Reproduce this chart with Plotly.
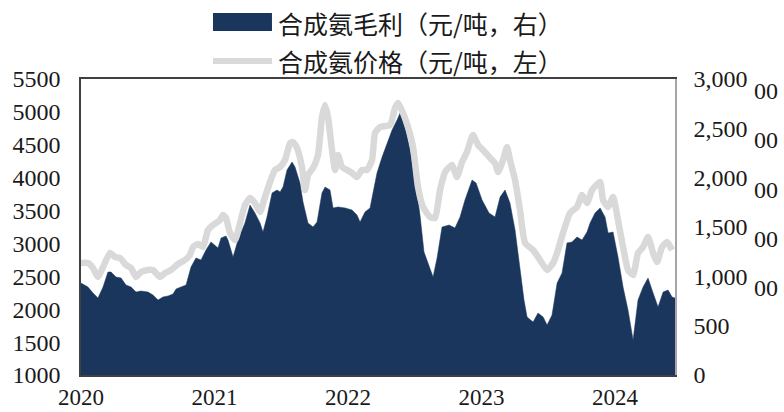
import plotly.graph_objects as go

# ---- data ----
year_ticks = [2020, 2021, 2022, 2023, 2024]
year_labels = ["2020", "2021", "2022", "2023", "2024"]

# 合成氨毛利 (元/吨, right axis) — time in decimal years
margin_t = [2.000, 2.052, 2.090, 2.127, 2.165, 2.202, 2.225, 2.262, 2.300, 2.337, 2.375, 2.412, 2.449,
            2.502, 2.539, 2.577, 2.614, 2.652, 2.689, 2.712, 2.749, 2.787, 2.824, 2.861, 2.899, 2.936,
            2.974, 3.004, 3.026, 3.049, 3.086, 3.101, 3.139, 3.176, 3.228, 3.266, 3.303, 3.341, 3.363,
            3.393, 3.431, 3.468, 3.491, 3.513, 3.543, 3.581, 3.603, 3.640, 3.663, 3.700, 3.738, 3.768,
            3.805, 3.828, 3.865, 3.888, 3.925, 3.978, 4.030, 4.067, 4.090, 4.127, 4.165, 4.187, 4.217,
            4.255, 4.292, 4.330, 4.367, 4.390, 4.427, 4.464, 4.502, 4.539, 4.569, 4.599, 4.637, 4.667,
            4.704, 4.757, 4.801, 4.839, 4.876, 4.929, 4.959, 5.004, 5.056, 5.101, 5.139, 5.176, 5.213,
            5.251, 5.288, 5.318, 5.341, 5.386, 5.423, 5.461, 5.491, 5.528, 5.566, 5.603, 5.640, 5.678,
            5.715, 5.753, 5.790, 5.813, 5.850, 5.888, 5.925, 5.948, 5.985, 6.022, 6.060, 6.097, 6.135,
            6.172, 6.210, 6.247, 6.285, 6.322, 6.360, 6.397, 6.427, 6.449]
margin_t = [2018 + v for v in margin_t]
margin = [932, 892, 831, 780, 892, 1044, 1044, 993, 983, 912, 892, 841, 851,
          841, 811, 760, 791, 801, 821, 872, 892, 912, 1095, 1186, 1166, 1267,
          1348, 1318, 1287, 1388, 1409, 1368, 1196, 1368, 1541, 1723, 1642, 1541, 1449,
          1601, 1845, 1875, 1855, 1905, 2078, 2159, 2108, 1946, 1753, 1541, 1500, 1551,
          1845, 1905, 1875, 1693, 1703, 1693, 1672, 1622, 1551, 1652, 1693, 1845, 2047,
          2209, 2351, 2483, 2584, 2655, 2513, 2280, 1976, 1622, 1247, 1135, 993, 1186,
          1500, 1520, 1490, 1601, 1774, 1976, 1946, 1774, 1642, 1601, 1804, 1875, 1743,
          1470, 1095, 760, 588, 537, 628, 588, 507, 608, 932, 1034, 1338, 1348,
          1399, 1368, 1449, 1541, 1642, 1693, 1601, 1439, 1449, 1196, 892, 659, 355,
          760, 892, 983, 831, 689, 841, 861, 790, 780]

# 合成氨价格 (元/吨, left axis)
price_t = [0.000, 0.052, 0.090, 0.127, 0.165, 0.217, 0.255, 0.292, 0.337, 0.375, 0.412, 0.449,
           0.502, 0.539, 0.592, 0.629, 0.674, 0.727, 0.779, 0.816, 0.839, 0.876, 0.914, 0.951,
           0.989, 1.011, 1.041, 1.064, 1.086, 1.116, 1.154, 1.191, 1.228, 1.266, 1.303, 1.341,
           1.378, 1.416, 1.453, 1.491, 1.528, 1.566, 1.588, 1.618, 1.655, 1.678, 1.700, 1.738,
           1.775, 1.805, 1.828, 1.850, 1.880, 1.903, 1.925, 1.955, 1.993, 2.030, 2.067, 2.105,
           2.142, 2.180, 2.202, 2.240, 2.315, 2.352, 2.375, 2.412, 2.449, 2.487, 2.524, 2.562,
           2.614, 2.652, 2.689, 2.727, 2.779, 2.816, 2.854, 2.891, 2.936, 2.974, 3.011, 3.064,
           3.101, 3.124, 3.161, 3.191, 3.213, 3.251, 3.288, 3.326, 3.386, 3.438, 3.491, 3.536,
           3.573, 3.610, 3.663, 3.715, 3.753, 3.790, 3.828, 3.888, 3.910, 3.948, 3.985, 4.022,
           4.060, 4.097, 4.135, 4.172, 4.210, 4.247, 4.285, 4.315, 4.352, 4.390, 4.427]
price_t = [2020 + v for v in price_t]
price = [2703, 2703, 2627, 2490, 2642, 2855, 2794, 2779, 2672, 2627, 2490, 2566,
         2596, 2596, 2490, 2551, 2596, 2687, 2748, 2824, 2946, 2991, 2946, 3204,
         3280, 3311, 3356, 3432, 3387, 3159, 3052, 3311, 3584, 3691, 3615, 3478,
         3706, 3934, 4117, 4162, 4269, 4527, 4542, 4451, 4162, 3812, 4041, 4147,
         4345, 4922, 5105, 4922, 4421, 4117, 4345, 4162, 4117, 4071, 4010, 4117,
         4117, 4269, 4679, 4770, 4801, 5059, 5135, 4983, 4770, 4466, 3858, 3554,
         3402, 3387, 3812, 4086, 4193, 4010, 4238, 4390, 4649, 4497, 4421, 4299,
         4223, 4086, 4269, 4466, 4269, 3964, 3508, 3007, 2900, 2748, 2596, 2703,
         2900, 3159, 3463, 3554, 3736, 3615, 3812, 3934, 3660, 3554, 3706, 3356,
         2946, 2596, 2520, 2855, 2946, 3098, 2855, 2718, 2946, 3022, 2900]

left_ticks = [1000, 1500, 2000, 2500, 3000, 3500, 4000, 4500, 5000, 5500]
right_ticks = [0, 500, 1000, 1500, 2000, 2500, 3000]
clipped_ticks = [3000, 2500, 2000, 1500, 1000]

margin_name = "合成氨毛利（元/吨，右）"
price_name = "合成氨价格（元/吨，左）"

NAVY = "#1a365c"
GREY = "#d9d9d9"
TICK_FONT = dict(family="Liberation Serif", size=24, color="#1a1a1a")
X_TICK_FONT = dict(family="Liberation Serif", size=23, color="#1a1a1a")
CJK_FONT = dict(family="Noto Sans CJK SC", size=25, color="#1a1a1a")

fig = go.Figure()
fig.add_trace(go.Scatter(
    x=margin_t, y=margin, name=margin_name, mode="lines",
    fill="tozeroy", fillcolor=NAVY, line=dict(color=NAVY, width=0.5),
    yaxis="y", showlegend=False, hoverinfo="skip"))
fig.add_trace(go.Scatter(
    x=price_t, y=price, name=price_name, mode="lines",
    line=dict(color=GREY, width=6.5, shape="spline", smoothing=0.5),
    yaxis="y2", showlegend=False, hoverinfo="skip"))

fig.update_layout(
    width=784, height=412,
    margin=dict(l=81, r=109, t=79, b=37),
    paper_bgcolor="white", plot_bgcolor="white",
    xaxis=dict(range=[2020, margin_t[-1]], tickvals=year_ticks, ticktext=year_labels,
               showgrid=False, zeroline=False, showline=True, linecolor="#404040",
               linewidth=1.5, mirror=True, ticks="outside", ticklen=1,
               tickcolor="rgba(0,0,0,0)", tickfont=X_TICK_FONT, automargin=False),
    yaxis=dict(side="right", range=[0, 3000], tickvals=right_ticks, tickformat=",d",
               showgrid=False, zeroline=False, showline=True, linecolor="#a6a6a6",
               linewidth=1.5, ticks="outside", ticklen=12, tickcolor="rgba(0,0,0,0)",
               tickfont=TICK_FONT, automargin=False),
    yaxis2=dict(side="left", overlaying="y", range=[1000, 5500], tickvals=left_ticks,
                tickformat="d", showgrid=False, zeroline=False, showline=True,
                linecolor="#404040", linewidth=1.5, ticks="outside", ticklen=14,
                tickcolor="rgba(0,0,0,0)", tickfont=TICK_FONT, automargin=False),
)

# legend keys and labels (drawn at the top, as in the reference)
fig.add_shape(type="rect", xref="paper", yref="paper", x0=0.2222, x1=0.3215,
              y0=1.1622, y1=1.2230, fillcolor=NAVY, line=dict(width=0))
fig.add_shape(type="line", xref="paper", yref="paper", x0=0.2222, x1=0.3215,
              y0=1.0608, y1=1.0608, line=dict(color=GREY, width=6))
fig.add_annotation(xref="paper", yref="paper", x=0.3283, y=1.189, xanchor="left",
                   yanchor="middle", text=margin_name, showarrow=False, font=CJK_FONT)
fig.add_annotation(xref="paper", yref="paper", x=0.3283, y=1.0608, xanchor="left",
                   yanchor="middle", text=price_name, showarrow=False, font=CJK_FONT)

# partial labels of a neighbouring axis visible at the right edge
for v in clipped_ticks:
    fig.add_annotation(xref="paper", yref="y", x=1.176, y=v, yshift=-12,
                       xanchor="right", yanchor="middle", text="00",
                       showarrow=False, font=TICK_FONT)

fig.write_html("out.html", config={"displayModeBar": False},
               post_script="document.body.style.margin='0';")
